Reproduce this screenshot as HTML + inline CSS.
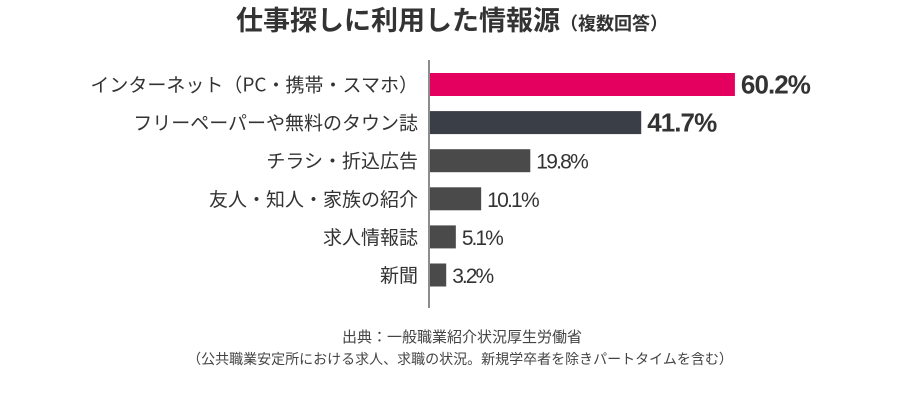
<!DOCTYPE html>
<html><head><meta charset="utf-8"><style>
body{margin:0;background:#fff;}
#c{position:relative;width:916px;height:400px;font-family:"Liberation Sans","Noto Sans CJK JP",sans-serif;color:#333;}
</style></head><body>
<div id="c">
<svg id="s" width="916" height="400">
<text x="452" y="30" text-anchor="middle" font-size="27" font-weight="bold" fill="#333" font-family="Noto Sans CJK JP, sans-serif">仕事探しに利用した情報源<tspan font-size="18">（複数回答）</tspan></text>
<line x1="429" y1="60" x2="429" y2="308" stroke="#666" stroke-width="1.5"/>
<g id="bars"></g>
<text x="462" y="342" text-anchor="middle" font-size="15" fill="#444" font-family="Noto Sans CJK JP, sans-serif">出典：一般職業紹介状況厚生労働省</text>
<text x="460" y="364" text-anchor="middle" font-size="14" fill="#444" font-family="Noto Sans CJK JP, sans-serif">（公共職業安定所における求人、求職の状況。新規学卒者を除きパートタイムを含む）</text>
</svg>
</div>
<script>
const categories=["インターネット（PC・携帯・スマホ）","フリーペーパーや無料のタウン誌","チラシ・折込広告","友人・知人・家族の紹介","求人情報誌","新聞"];
const values=[60.2,41.7,19.8,10.1,5.1,3.2];
const valueLabels=["60.2%","41.7%","19.8%","10.1%","5.1%","3.2%"];
const colors=["#e4005e","#3a3e46","#4a4a4a","#4a4a4a","#4a4a4a","#4a4a4a"];
const NS="http://www.w3.org/2000/svg";
const x0=430, scale=5.065, y0=84.5, step=38.1, bh=23;
const xS=v=>x0+v*scale, yS=i=>y0+i*step;
const g=document.getElementById('bars');
categories.forEach((c,i)=>{
 const cy=yS(i);
 const r=document.createElementNS(NS,'rect');
 r.setAttribute('x',x0);r.setAttribute('y',cy-bh/2);r.setAttribute('width',xS(values[i])-x0);r.setAttribute('height',bh);r.setAttribute('fill',colors[i]);
 
 
 g.appendChild(r);
 const l=document.createElementNS(NS,'text');
 l.setAttribute('x',418);l.setAttribute('y',cy+7);l.setAttribute('text-anchor','end');l.setAttribute('font-size','19');l.setAttribute('fill','#333');
 l.setAttribute('font-family','Noto Sans CJK JP, sans-serif');
 l.textContent=c;
 
 
 g.appendChild(l);
 const v=document.createElementNS(NS,'text');
 const bold=i<2;
 v.setAttribute('x',xS(values[i])+6);v.setAttribute('y',cy+(bold?9:8));v.setAttribute('font-size',bold?'26':'21');
 v.setAttribute('font-weight',bold?'bold':'normal');v.setAttribute('fill','#333');
 v.setAttribute('textLength',bold?'70':(valueLabels[i].length*10.5));
 v.textContent=valueLabels[i];
 
 
 g.appendChild(v);
});
</script>
</body></html>
